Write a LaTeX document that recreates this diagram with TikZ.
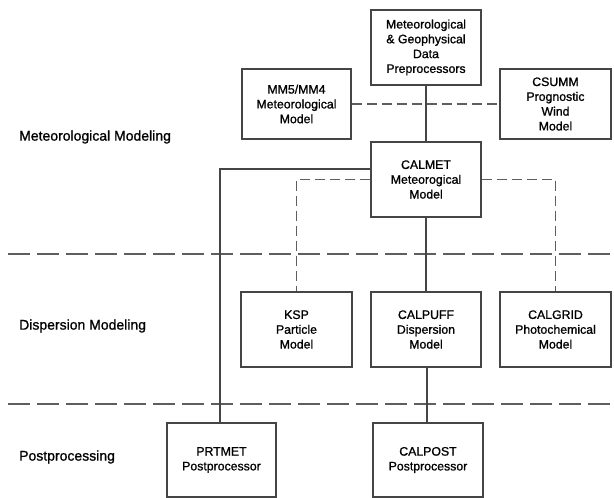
\documentclass[tikz,border=0pt]{standalone}
\usepackage{fontspec}
\setmainfont{Liberation Sans}
\newfontfamily\dkfont{Liberation Sans}[FakeBold=1.0]
\definecolor{linegray}{HTML}{454545}
\definecolor{sepgray}{HTML}{5E5E5E}
\begin{document}
\begin{tikzpicture}[x=1pt,y=-1pt,
  box/.style={draw=linegray, line width=1.2pt, align=center, inner sep=0pt,
    font=\dkfont\fontsize{12.3}{14.8}\selectfont, text=black},
  conn/.style={draw=linegray, line width=1.2pt},
  dconn/.style={draw=sepgray, line width=1.6pt, dash pattern=on 10pt off 5pt},
  sep/.style={draw=sepgray, line width=1.9pt, dash pattern=on 22pt off 7pt},
  lab/.style={anchor=west, font=\dkfont\fontsize{14}{16}\selectfont, inner sep=0pt, text=black}]
\useasboundingbox (0,0) rectangle (614,498);

% section labels
\node[lab] (lmet) at (19,137) {Meteorological Modeling};
\node[lab] (ldis) at (19,326) {Dispersion Modeling};
\node[lab] (lpost) at (19,457) {Postprocessing};

% separators
\coordinate (s1a) at (8,254);
\coordinate (s1b) at (614,254);
\coordinate (s2a) at (8,404);
\coordinate (s2b) at (614,404);
\draw[sep] (s1a) -- (s1b);
\draw[sep] (s2a) -- (s2b);

% boxes
\node[box, minimum width=110pt, minimum height=75pt] (pre) at (426,47.5)
  {Meteorological\\\& Geophysical\\Data\\Preprocessors};
\node[box, minimum width=109pt, minimum height=70pt] (mm5) at (296.5,104)
  {MM5/MM4\\Meteorological\\Model};
\node[box, minimum width=111pt, minimum height=70pt] (csumm) at (555.5,104)
  {CSUMM\\Prognostic\\Wind\\Model};
\node[box, minimum width=110pt, minimum height=75pt] (calmet) at (426,179.5)
  {CALMET\\Meteorogical\\Model};
\node[box, minimum width=111pt, minimum height=75pt] (ksp) at (296.5,329.5)
  {KSP\\Particle\\Model};
\node[box, minimum width=110pt, minimum height=75pt] (calpuff) at (426,329.5)
  {CALPUFF\\Dispersion\\Model};
\node[box, minimum width=111pt, minimum height=75pt] (calgrid) at (555.5,329.5)
  {CALGRID\\Photochemical\\Model};
\node[box, minimum width=109pt, minimum height=74pt] (prtmet) at (221.5,460)
  {PRTMET\\Postprocessor};
\node[box, minimum width=110pt, minimum height=74pt] (calpost) at (428,460)
  {CALPOST\\Postprocessor};

% connectors
\draw[dconn] (mm5) -- (csumm);
\draw[conn] (pre) -- (calmet);
\draw[conn] (calmet) -- (calpuff);
\draw[conn] ([xshift=1pt]calpuff.south) -- ([xshift=1pt]calpuff.south |- calpost.north);
\draw[conn] ([yshift=10.5pt]calmet.west) -| ([xshift=-1.5pt]prtmet.north);
\draw[dconn] (calmet.west) -| (ksp.north);
\draw[dconn] (calmet.east) -| (calgrid.north);
\end{tikzpicture}
\end{document}
